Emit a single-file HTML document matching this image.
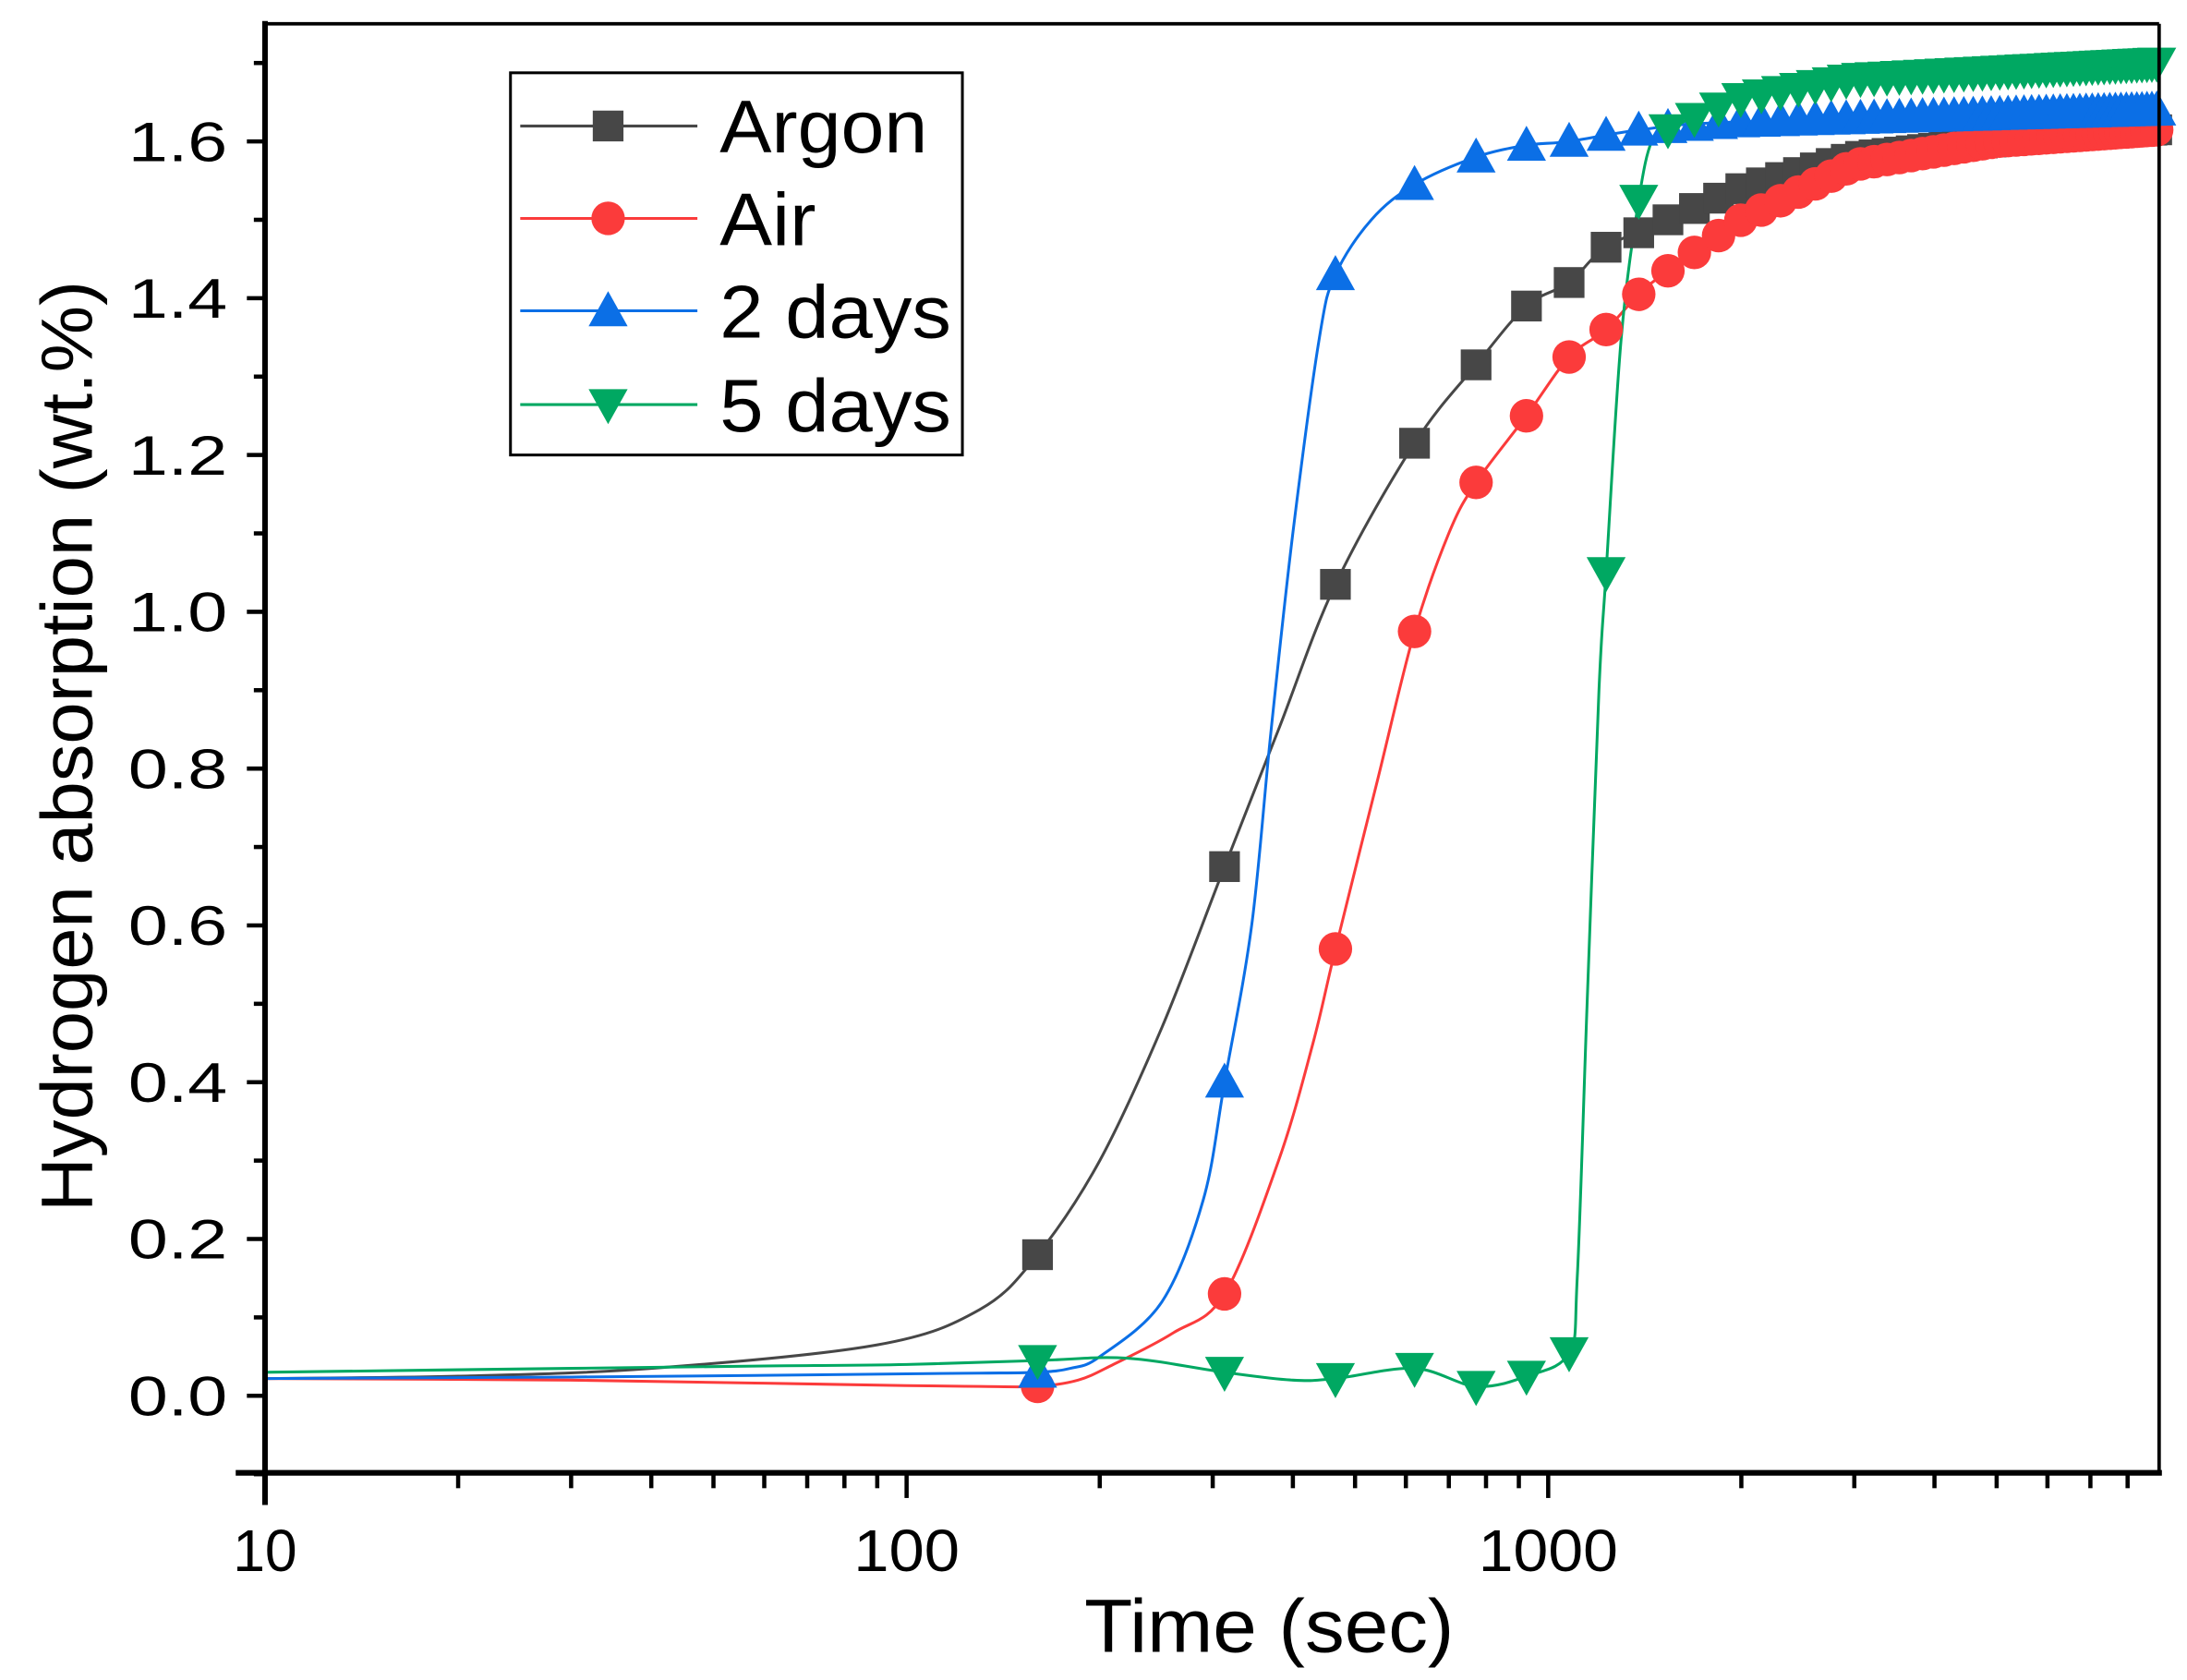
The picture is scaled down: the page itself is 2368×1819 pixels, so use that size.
<!DOCTYPE html>
<html><head><meta charset="utf-8"><style>
html,body{margin:0;padding:0;background:#fff;}
svg{display:block;}
text{font-family:"Liberation Sans",sans-serif;fill:#000;}
</style></head><body>
<svg id="s" width="2368" height="1819" viewBox="0 0 1568 1200" preserveAspectRatio="none" xmlns="http://www.w3.org/2000/svg">
<rect x="0" y="0" width="1568" height="1200" fill="#fff"/>
<g id="plot"></g>
<g id="axes"></g>
<rect x="366" y="52" width="324" height="273" fill="#fff" stroke="#000" stroke-width="2"/>
<g id="leg"></g>
<text x="0" y="0" font-size="52" text-anchor="middle" textLength="665" lengthAdjust="spacingAndGlyphs" transform="translate(66,533) rotate(-90)">Hydrogen absorption (wt.%)</text>
<text x="910" y="1180" font-size="54" text-anchor="middle" textLength="265" lengthAdjust="spacingAndGlyphs">Time (sec)</text>
</svg>
<script>
const NS="http://www.w3.org/2000/svg";
const X=t=>190+460*(Math.log10(t)-1);
const Y=v=>997-560*v;
function el(p,tag,a){const e=document.createElementNS(NS,tag);for(const k in a)e.setAttribute(k,a[k]);p.appendChild(e);return e;}
const plot=document.getElementById('plot'),axes=document.getElementById('axes'),leg=document.getElementById('leg');
const series=[
{c:'#474747',m:'sq',pts:[[10,0.022],[20,0.025],[40,0.035],[90,0.065],[130,0.11],[160,0.18],[200,0.3],[250,0.47],[313,0.675],[380,0.85],[466,1.035],[619,1.215],[772,1.315],[925,1.39],[1078,1.42],[1231,1.465],[1537,1.5],[2000,1.54],[3000,1.58],[5000,1.6],[8950,1.615]]},
{c:'#fb3b3b',m:'ci',pts:[[10,0.022],[30,0.02],[60,0.016],[100,0.013],[130,0.012],[160,0.012],[185,0.02],[210,0.04],[260,0.08],[313,0.13],[380,0.3],[430,0.45],[466,0.57],[540,0.78],[619,0.975],[700,1.1],[772,1.165],[925,1.25],[1078,1.325],[1231,1.36],[1384,1.405],[1537,1.435],[2000,1.5],[3000,1.57],[5000,1.6],[8950,1.615]]},
{c:'#0b6fe6',m:'up',pts:[[10,0.022],[30,0.024],[60,0.026],[100,0.028],[130,0.029],[160,0.03],[180,0.035],[200,0.05],[250,0.12],[290,0.25],[313,0.4],[345,0.6],[370,0.85],[400,1.1],[440,1.35],[466,1.43],[530,1.5],[619,1.545],[772,1.58],[925,1.595],[1078,1.6],[1400,1.615],[2000,1.625],[8950,1.64]]},
{c:'#00a862',m:'dn',pts:[[10,0.03],[30,0.035],[60,0.038],[100,0.04],[160,0.045],[220,0.048],[313,0.03],[400,0.02],[466,0.022],[619,0.035],[772,0.012],[925,0.025],[1078,0.055],[1110,0.15],[1150,0.5],[1200,0.9],[1231,1.05],[1300,1.35],[1384,1.525],[1450,1.6],[1537,1.615],[2000,1.655],[3000,1.68],[8950,1.7]]}
];
function interp(pts,t){const l=Math.log10(t);for(let i=0;i<pts.length-1;i++){const a=Math.log10(pts[i][0]),b=Math.log10(pts[i+1][0]);if(l>=a&&l<=b){const f=(l-a)/(b-a);return pts[i][1]+f*(pts[i+1][1]-pts[i][1]);}}return pts[pts.length-1][1];}
function marker(p,type,x,y,c){
 if(type==='sq')el(p,'rect',{x:x-11,y:y-11,width:22,height:22,fill:c});
 else if(type==='ci')el(p,'circle',{cx:x,cy:y,r:12,fill:c});
 else if(type==='up')el(p,'polygon',{points:`${x},${y-14} ${x-14},${y+11} ${x+14},${y+11}`,fill:c});
 else el(p,'polygon',{points:`${x},${y+14} ${x-14},${y-11} ${x+14},${y-11}`,fill:c});
}
series.forEach(s=>{
 const P=s.pts.map(p=>[X(p[0]),Y(p[1])]);
 let d='M'+P[0][0].toFixed(1)+','+P[0][1].toFixed(1);
 for(let i=0;i<P.length-1;i++){const p0=P[Math.max(0,i-1)],p1=P[i],p2=P[i+1],p3=P[Math.min(P.length-1,i+2)];
  const k=1/6;const c1=[p1[0]+(p2[0]-p0[0])*k,p1[1]+(p2[1]-p0[1])*k],c2=[p2[0]-(p3[0]-p1[0])*k,p2[1]-(p3[1]-p1[1])*k];
  d+=`C${c1[0].toFixed(1)},${c1[1].toFixed(1)} ${c2[0].toFixed(1)},${c2[1].toFixed(1)} ${p2[0].toFixed(1)},${p2[1].toFixed(1)}`;}
 el(plot,'path',{d:d,fill:'none',stroke:s.c,'stroke-width':2});
});
series.forEach(s=>{
 for(let t=160;t<=8950;t+=153){marker(plot,s.m,X(t),Y(interp(s.pts,t)),s.c);}
});
el(axes,'line',{x1:190,y1:17,x2:1548,y2:17,stroke:'#000','stroke-width':2.5});
el(axes,'line',{x1:1548,y1:17,x2:1548,y2:1052,stroke:'#000','stroke-width':2.5});
el(axes,'line',{x1:190,y1:15,x2:190,y2:1075,stroke:'#000','stroke-width':4});
el(axes,'line',{x1:169,y1:1052,x2:1550,y2:1052,stroke:'#000','stroke-width':4});
for(let i=-1;i<=17;i++){const v=i/10,y=Y(v);const maj=(i%2===0);
 el(axes,'line',{x1:maj?177:182,y1:y,x2:190,y2:y,stroke:'#000','stroke-width':3});
 if(maj&&i>=0)el(axes,'text',{x:163,y:y+14,'font-size':40,'text-anchor':'end',textLength:71,lengthAdjust:'spacingAndGlyphs'}).textContent=v.toFixed(1);}
const xl={10:46,100:76,1000:100};
for(let dec=10;dec<=1000;dec*=10){for(let k=1;k<=9;k++){const t=dec*k;if(t>8950)break;const x=X(t);
 el(axes,'line',{x1:x,y1:1052,x2:x,y2:k===1?1070:1063,stroke:'#000','stroke-width':3});
 if(k===1)el(axes,'text',{x:x,y:1122,'font-size':42,'text-anchor':'middle',textLength:xl[t],lengthAdjust:'spacingAndGlyphs'}).textContent=String(t);}}
const names=['Argon','Air','2 days','5 days'],ly=[90,156,222,289],lw=[149,69,166,166];
series.forEach((s,i)=>{el(leg,'line',{x1:373,y1:ly[i],x2:500,y2:ly[i],stroke:s.c,'stroke-width':2});
 marker(leg,s.m,436,ly[i],s.c);
 el(leg,'text',{x:516,y:ly[i]+19,'font-size':53,textLength:lw[i],lengthAdjust:'spacingAndGlyphs'}).textContent=names[i];});
</script>
</body></html>
